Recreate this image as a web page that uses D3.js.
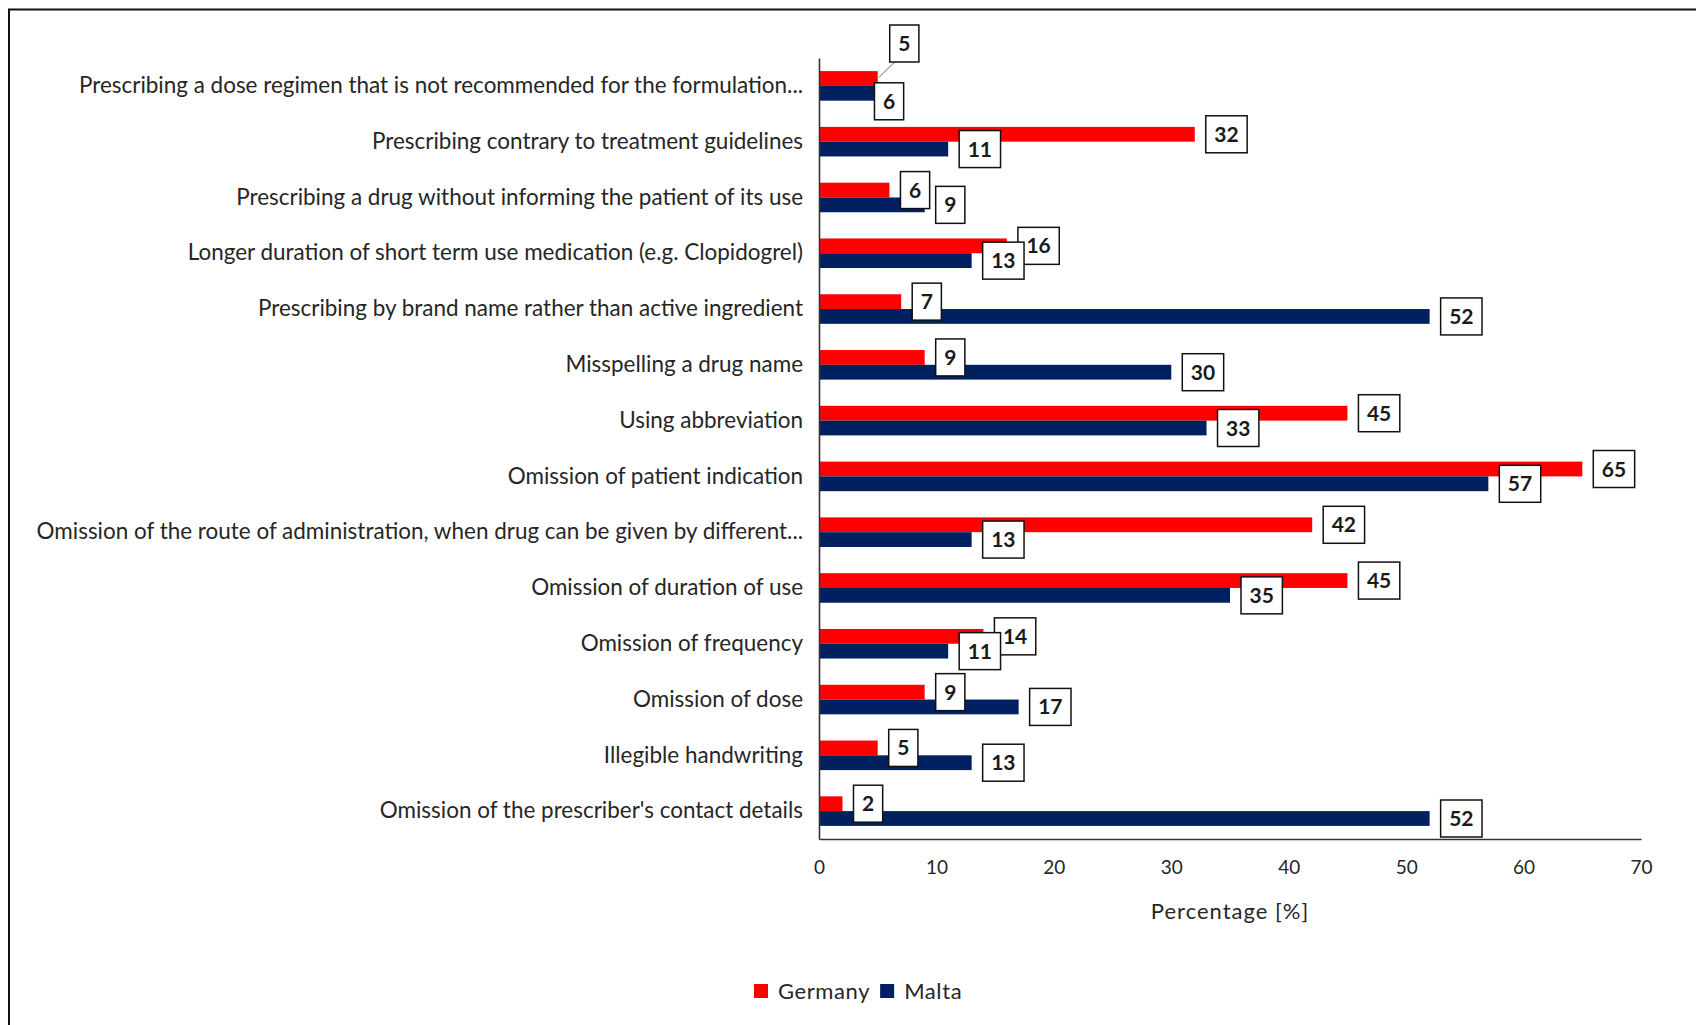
<!DOCTYPE html>
<html>
<head>
<meta charset="utf-8">
<script src="https://cdn.jsdelivr.net/npm/d3@7"></script>
<style>
  html, body { margin: 0; padding: 0; background: #fff; }
  svg { display: block; font-family: Lato, "Open Sans", sans-serif; }
</style>
</head>
<body>
<svg id="chart" width="1696" height="1025"></svg>
<script>
// Prescribing error types, share of respondents [%], listed top to bottom
const categories = [
  "Prescribing a dose regimen that is not recommended for the formulation...",
  "Prescribing contrary to treatment guidelines",
  "Prescribing a drug without informing the patient of its use",
  "Longer duration of short term use medication (e.g. Clopidogrel)",
  "Prescribing by brand name rather than active ingredient",
  "Misspelling a drug name",
  "Using abbreviation",
  "Omission of patient indication",
  "Omission of the route of administration, when drug can be given by different...",
  "Omission of duration of use",
  "Omission of frequency",
  "Omission of dose",
  "Illegible handwriting",
  "Omission of the prescriber's contact details"
];
const germany = [5, 32, 6, 16, 7, 9, 45, 65, 42, 45, 14, 9, 5, 2];
const malta   = [6, 11, 9, 13, 52, 30, 33, 57, 13, 35, 11, 17, 13, 52];
const seriesNames = ["Germany", "Malta"];
const xTicks = [0, 10, 20, 30, 40, 50, 60, 70];
const axisTitle = "Percentage [%]";

const colors = { Germany: "#ff0000", Malta: "#002060" };
const textColor = "#262626";

const svg = d3.select("#chart");
const W = 1696, H = 1025;

// outer frame (open to the right and bottom edges)
svg.append("path")
  .attr("d", `M9,${H + 5}V9.5H${W + 5}`)
  .attr("fill", "none").attr("stroke", "#111").attr("stroke-width", 2);

const plot = { left: 819, right: 1641, top: 58, bottom: 839 };

const x = d3.scaleLinear().domain([0, 70]).range([plot.left, plot.right]);
const y = d3.scaleBand().domain(categories).range([plot.top, plot.bottom])
  .paddingInner(0.47).paddingOuter(0.235);
const ySub = d3.scaleBand().domain(seriesNames).range([0, y.bandwidth()]);

const rows = categories.map((c, i) => ({ cat: c, Germany: germany[i], Malta: malta[i] }));
const bars = [];
rows.forEach((r, i) => seriesNames.forEach(s => bars.push({ cat: r.cat, i, series: s, value: r[s] })));

// bars
svg.append("g").selectAll("rect").data(bars).join("rect")
  .attr("x", x(0))
  .attr("y", d => y(d.cat) + ySub(d.series))
  .attr("width", d => x(d.value) - x(0))
  .attr("height", ySub.bandwidth())
  .attr("fill", d => colors[d.series]);

// category axis
const yAxis = svg.append("g")
  .attr("transform", `translate(${plot.left},0)`)
  .call(d3.axisLeft(y).tickSize(0).tickPadding(16).tickSizeOuter(0));
yAxis.select(".domain").attr("stroke", "#333").attr("stroke-width", 1.6);
const yLabels = yAxis.selectAll("text")
  .attr("fill", textColor).attr("font-family", "Lato, 'Open Sans', sans-serif")
  .attr("font-size", 20);
// size category labels so the longest spans the available width
let maxW = 0;
yLabels.each(function () { maxW = Math.max(maxW, this.getComputedTextLength()); });
yLabels.attr("font-size", 20 * 767 / maxW);

// value axis
const xAxis = svg.append("g")
  .attr("transform", `translate(0,${plot.bottom})`)
  .call(d3.axisBottom(x).tickValues(xTicks).tickSize(0).tickPadding(22).tickSizeOuter(0));
xAxis.select(".domain").attr("stroke", "#333").attr("stroke-width", 1.6);
xAxis.selectAll("text")
  .attr("fill", textColor).attr("font-family", "Lato, 'Open Sans', sans-serif")
  .attr("font-size", 19);

svg.append("text")
  .attr("x", 1230).attr("y", 911).attr("dy", "0.35em")
  .attr("text-anchor", "middle").attr("fill", textColor)
  .attr("font-size", 22).attr("letter-spacing", 1)
  .text(axisTitle);

// data labels: boxed values just past the bar ends; the top row's pair is moved apart
const labelShift = { "0-Germany": [1, -35], "0-Malta": [-26, 8] };
const labelG = svg.append("g");
bars.forEach(d => {
  const endX = x(d.value);
  const cy = y(d.cat) + ySub(d.series) + ySub.bandwidth() / 2;
  const shift = labelShift[d.i + "-" + d.series] || [0, 0];
  const g = labelG.append("g");
  const t = g.append("text")
    .attr("font-size", 21).attr("font-weight", 700)
    .attr("fill", "#1a1a1a").attr("text-anchor", "middle").attr("dy", "0.36em")
    .text(d.value);
  const tw = t.node().getComputedTextLength();
  const bw = tw + 17, bh = 37;
  const left = endX + 11 + shift[0];
  const cyy = cy + shift[1];
  if (shift[1] < -20) {
    // leader line from the bar end up to the moved label
    labelG.insert("line", ":first-child")
      .attr("x1", endX + 1).attr("y1", cy - 1)
      .attr("x2", left + 5).attr("y2", cyy + bh / 2)
      .attr("stroke", "#a6a6a6").attr("stroke-width", 1.2);
  }
  g.insert("rect", "text")
    .attr("x", left).attr("y", cyy - bh / 2)
    .attr("width", bw).attr("height", bh)
    .attr("fill", "#fff").attr("stroke", "#111").attr("stroke-width", 1.5);
  t.attr("x", left + bw / 2).attr("y", cyy);
});

// legend
const legend = svg.append("g").attr("transform", "translate(754,991)");
let lx = 0;
seriesNames.forEach(s => {
  legend.append("rect").attr("x", lx).attr("y", -7).attr("width", 14).attr("height", 14)
    .attr("fill", colors[s]);
  const t = legend.append("text").attr("x", lx + 24).attr("y", 0).attr("dy", "0.35em")
    .attr("font-size", 22).attr("letter-spacing", 0.6).attr("fill", textColor).text(s);
  lx += 24 + t.node().getComputedTextLength() + 10;
});
</script>
</body>
</html>
